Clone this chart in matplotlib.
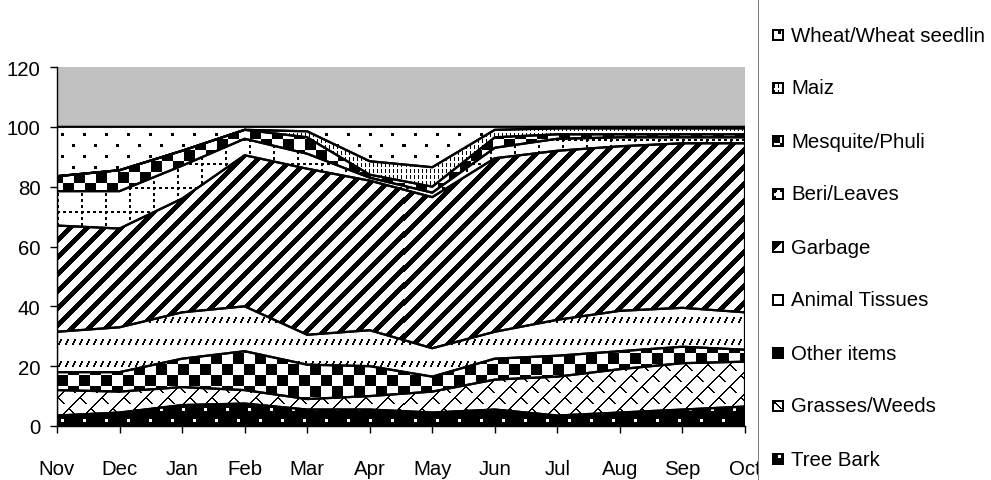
import numpy as np
import matplotlib.pyplot as plt
from matplotlib.patches import Rectangle
from matplotlib.lines import Line2D

plt.rcParams['font.family'] = ['Liberation Sans', 'DejaVu Sans']

months = ['Nov', 'Dec', 'Jan', 'Feb', 'Mar', 'Apr', 'May', 'Jun', 'Jul', 'Aug', 'Sep', 'Oct']

# percent of diet per month (bottom layer first)
tree_bark = [3.5, 4.5, 7, 7.5, 5.5, 5.5, 4.5, 5.5, 3.5, 4.5, 5.5, 6.5]
grasses = [8.5, 7, 6, 4.5, 3.5, 4.5, 7, 10, 13, 14.5, 15.5, 15]
other_items = [6, 6.5, 9.5, 13, 11.5, 10, 5, 7, 7, 6, 5.5, 4]
animal_tissues = [13.5, 15, 15.5, 15, 10, 12, 9.5, 9, 12, 13.5, 13, 12.5]
garbage = [35.5, 33, 38, 50.5, 55.5, 50, 50.5, 58, 56.5, 55, 55, 56.5]
beri_leaves = [11.5, 12.5, 11, 5.5, 5, 1, 1.5, 3.5, 4, 3, 2, 2]
mesquite = [5, 7, 5, 3, 5.5, 1, 2, 3.5, 1.5, 1, 1, 1]
maiz = [0, 0, 0, 0, 2, 4.5, 6.5, 2.5, 2, 2, 2, 2]
wheat = [16.5, 14.5, 8, 1, 1.5, 11.5, 13.5, 1, 0.5, 0.5, 0.5, 0.5]

labels = ['Tree Bark', 'Grasses/Weeds', 'Other items', 'Animal Tissues', 'Garbage',
          'Beri/Leaves', 'Mesquite/Phuli', 'Maiz', 'Wheat/Wheat seedlin']


# --- pixel patterns, True = black ---
def pat_sparse_dots(inverse=False):
    t = np.zeros((22, 22), bool)
    t[0:3, 4:7] = True
    t[11:14, 15:18] = True
    return ~t if inverse else t

def pat_cross():
    r, c = np.mgrid[0:22, 0:22]
    up = (r + c) % 22 < 2
    down = ((c - r) % 22 < 2) & (r % 11 < 7)
    return up | down

def pat_checker(shift=0):
    r, c = np.mgrid[0:22, 0:22]
    return (((r + shift) // 11 + (c + shift) // 11) % 2) == 0

def pat_slashes():
    t = np.zeros((22, 7), bool)
    for k in range(6):
        t[k + 8, 3 - k // 2] = True
        t[k + 8, 4 - k // 2] = True
    return t

def pat_wide_diag():
    r, c = np.mgrid[0:17, 0:17]
    return (r + c) % 17 < 7

def pat_dot_grid():
    r, c = np.mgrid[0:24, 0:24]
    return ((r < 2) & (c % 6 < 3)) | ((c < 2) & (r % 6 < 3))

def pat_vdash():
    t = np.zeros((6, 4), bool)
    t[0:4, 0] = True
    return t

tiles = [pat_sparse_dots(inverse=True), pat_cross(), pat_checker(), pat_slashes(),
         pat_wide_diag(), pat_dot_grid(), pat_checker(5), pat_vdash(), pat_sparse_dots()]

values = [tree_bark, grasses, other_items, animal_tissues, garbage,
          beri_leaves, mesquite, maiz, wheat]

W, H = 991, 481
fig = plt.figure(figsize=(W / 100, H / 100), dpi=100)
left, right, top, bottom = 57, 745, 68, 427
ax = fig.add_axes([left / W, (H - bottom) / H, (right - left) / W, (bottom - top) / H])
ax.set_facecolor('#c0c0c0')

aw, ah = right - left, bottom - top


def to_rgb(mask):
    img = np.where(mask, 0, 255).astype(np.uint8)
    return np.dstack([img, img, img])


x = np.arange(len(months))
stack = np.cumsum(np.array(values), axis=0)
lower = np.zeros(len(months))
for vals_top, tile in zip(stack, tiles):
    poly = ax.fill_between(x, lower, vals_top, facecolor='none', edgecolor='black',
                           linewidth=1.6, zorder=3)
    th, tw = tile.shape
    big = np.tile(tile, (ah // th + 2, aw // tw + 2))[:ah, :aw]
    im = ax.imshow(to_rgb(big), extent=(0, 11, 0, 120), origin='upper',
                   aspect='auto', interpolation='nearest', zorder=2)
    im.set_clip_path(poly.get_paths()[0], transform=ax.transData)
    lower = vals_top

fs = 14.7
ax.set_xlim(0, 11)
ax.set_ylim(0, 120)
ax.set_xticks(x)
ax.set_xticklabels(months)
ax.set_yticks(range(0, 121, 20))
ax.tick_params(axis='x', length=5, width=1, pad=19, labelsize=fs)
ax.tick_params(axis='y', length=5, width=1, pad=7, labelsize=fs)
for s in ['top', 'right']:
    ax.spines[s].set_visible(False)
for s in ['left', 'bottom']:
    ax.spines[s].set_linewidth(1)

# legend box (covers the end of the last tick label, like the original)
fig.add_artist(Rectangle((758 / W, 0), 1, 1, transform=fig.transFigure,
                         facecolor='white', edgecolor='none', zorder=5))
fig.add_artist(Line2D([757.5 / W] * 2, [0, 1], transform=fig.transFigure,
                      color='#808080', linewidth=0.75, zorder=6))

row0, step = 36, 53
for i, (lab, tile) in enumerate(zip(labels[::-1], tiles[::-1])):
    cy = row0 + step * i
    icon = np.ones((12, 12), bool)
    inner = np.tile(tile, (3, 3))[:8, :8]
    icon[2:10, 2:10] = inner
    fig.figimage(to_rgb(icon), xo=772, yo=H - cy - 6, origin='upper', zorder=10)
    fig.text(791 / W, 1 - cy / H, lab, va='center', ha='left', fontsize=fs, zorder=7)

fig.savefig('out.png', dpi=100)
